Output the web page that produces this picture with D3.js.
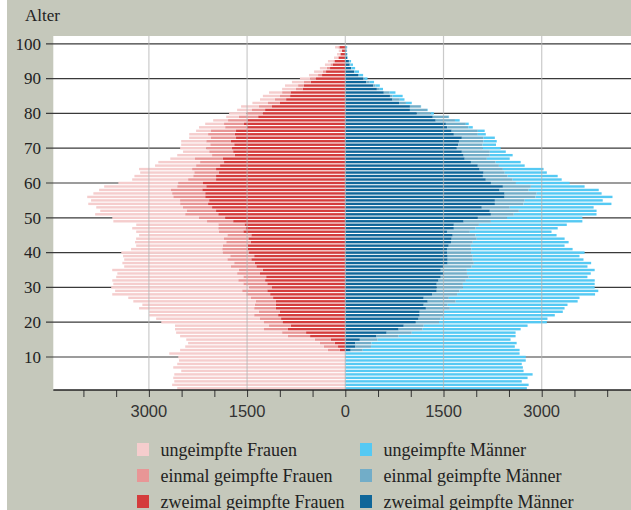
<!DOCTYPE html>
<html><head><meta charset="utf-8">
<script src="https://cdn.jsdelivr.net/npm/d3@7"></script>
<style>html,body{margin:0;padding:0;background:#fff;}svg{display:block;}</style>
</head><body>
<svg id="chart" width="631" height="510"></svg>
<script>
// Ages 1..99
const ages = d3.range(1, 100);
const yTicks = [10,20,30,40,50,60,70,80,90,100];
const xTicks = [-4000,-3500,-3000,-2500,-2000,-1500,-1000,-500,0,500,1000,1500,2000,2500,3000,3500,4000];
const xTickLabels = [-3000,-1500,0,1500,3000];
const seriesNames = ["ungeimpfte Frauen","einmal geimpfte Frauen","zweimal geimpfte Frauen","ungeimpfte Männer","einmal geimpfte Männer","zweimal geimpfte Männer"];

const womenNone = [2567,2645,2612,2628,2612,2506,2628,2567,2540,2551,2689,2257,2118,2013,1963,1647,1619,1359,1436,1569,
1586,1603,1675,1758,1719,1874,1874,2046,1941,2107,1985,1924,1941,1830,1935,1630,1708,1575,1636,1553,
1392,1325,1392,1342,1347,1264,1314,1253,1431,1325,1375,1325,1325,1403,1359,1314,1203,1098,1115,915,
854,898,826,810,627,638,377,532,399,399,444,383,333,288,227,399,288,227,194,266,
227,272,238,227,261,200,211,200,183,155,139,133,105,83,83,60,45,45,50];
const womenOnce = [0,0,0,0,0,0,0,0,0,0,0,183,216,227,244,338,366,366,333,288,
322,366,322,333,322,305,338,366,383,349,366,410,349,349,366,388,316,366,366,399,
388,377,372,372,366,372,416,399,399,399,505,444,444,427,444,488,505,477,444,377,
427,349,377,366,366,366,427,349,366,394,366,377,383,410,383,327,305,294,294,250,
200,200,183,172,155,128,105,89,105,89,61,50,50,39,22,12,15,5,17];
const womenTwice = [0,0,0,0,0,0,0,0,0,0,0,83,111,161,222,538,599,876,832,954,
981,1026,998,1059,1059,1059,1103,1148,1192,1120,1192,1225,1209,1303,1259,1359,1381,1436,1392,1470,
1492,1492,1447,1481,1436,1558,1525,1541,1713,1835,1941,1974,2035,2096,2080,2140,2140,2185,2124,2174,
1974,1974,1930,1974,1913,1852,1869,1686,1713,1730,1697,1747,1669,1686,1669,1508,1547,1497,1331,1259,
1225,1120,998,904,843,837,649,632,527,449,355,294,233,189,160,100,67,50,89];
const menNone = [2773,2800,2695,2784,2861,2723,2712,2695,2756,2756,2662,2396,2196,2218,2030,1786,1586,1497,1586,1647,
1630,1708,1819,1752,1830,1863,1996,2107,2118,2013,2013,1969,1813,1891,1952,1769,1792,1691,1630,1736,
1542,1431,1464,1342,1237,1248,1253,1342,1397,1153,1264,1187,1281,1342,1192,1176,993,1070,821,826,
749,765,643,621,394,383,349,349,244,277,205,205,177,122,105,67,44,72,5,50,
10,5,89,72,155,89,50,67,67,50,61,67,55,39,22,6,5,5,6];
const menOnce = [0,0,0,0,0,0,0,0,0,0,0,183,238,244,272,338,383,366,305,355,
338,355,366,366,366,427,383,383,349,399,399,416,427,355,399,427,399,383,383,366,
377,338,333,383,349,349,333,383,416,444,349,444,427,438,455,471,488,444,427,377,
410,377,322,355,322,377,338,399,427,394,372,372,327,366,399,322,305,294,244,211,
261,166,105,111,39,89,44,33,50,17,17,10,6,11,11,5,5,5,6];
const menTwice = [0,0,0,0,0,0,0,0,0,0,0,83,155,155,222,477,632,815,893,1076,
1120,1137,1137,1231,1198,1259,1198,1325,1397,1397,1397,1425,1458,1503,1458,1503,1564,1564,1564,1553,
1553,1580,1614,1625,1641,1553,1658,1658,1808,2024,2224,2207,2085,2285,2285,2434,2434,2357,2407,2224,
2146,2102,2113,2052,2024,1919,1824,1808,1780,1702,1725,1736,1780,1658,1625,1558,1536,1381,1336,1092,
987,987,821,721,682,588,482,427,322,272,194,133,89,67,55,28,22,17,17];

const colors = {
  womenNone:"#f5cdcd", womenOnce:"#e89696", womenTwice:"#d43c3c",
  menNone:"#55c9f3", menOnce:"#72adc8", menTwice:"#0f6699"
};

const rows = ages.map((a,i)=>({age:a,
  womenTwice:womenTwice[i], womenOnce:womenOnce[i], womenNone:womenNone[i],
  menTwice:menTwice[i], menOnce:menOnce[i], menNone:menNone[i]}));

const svg = d3.select("#chart");
const W = 631, H = 510;
const plotL = 53.3, plotT = 36, plotB = 390;

svg.append("rect").attr("x",0).attr("y",0).attr("width",W).attr("height",H).attr("fill","#ffffff");
svg.append("rect").attr("x",7).attr("y",0).attr("width",W-7).attr("height",H).attr("fill","#c5c8bb");
svg.append("rect").attr("x",plotL).attr("y",plotT).attr("width",W-plotL).attr("height",plotB-plotT).attr("fill","#ffffff");

const x = d3.scaleLinear().domain([-4460,4460]).range([plotL, 637.3]);
const y = d3.scaleLinear().domain([0,100]).range([391.8, 43.8]);
const barH = 2.4;

// horizontal age lines (behind bars)
svg.append("g").selectAll("line").data(yTicks).join("line")
  .attr("x1",46).attr("x2",W).attr("y1",d=>y(d)).attr("y2",d=>y(d))
  .attr("stroke","#3a3a3a").attr("stroke-width",1.2);

// stacks
const wStack = d3.stack().keys(["womenTwice","womenOnce","womenNone"])(rows);
const mStack = d3.stack().keys(["menTwice","menOnce","menNone"])(rows);

const bars = svg.append("g");
wStack.forEach(s=>{
  bars.append("g").attr("fill",colors[s.key]).selectAll("rect").data(s).join("rect")
    .attr("x",d=>x(-d[1])).attr("width",d=>Math.max(0,x(-d[0])-x(-d[1])))
    .attr("y",d=>y(d.data.age)-barH/2).attr("height",barH);
});
mStack.forEach(s=>{
  bars.append("g").attr("fill",colors[s.key]).selectAll("rect").data(s).join("rect")
    .attr("x",d=>x(d[0])).attr("width",d=>Math.max(0,x(d[1])-x(d[0])))
    .attr("y",d=>y(d.data.age)-barH/2).attr("height",barH);
});

// vertical gridlines (on top, light)
svg.append("g").selectAll("line").data(xTickLabels).join("line")
  .attr("x1",d=>x(d)).attr("x2",d=>x(d)).attr("y1",plotT).attr("y2",plotB)
  .attr("stroke","#b4b4b4").attr("stroke-opacity",0.7).attr("stroke-width",1.2);

// x axis
const xAxis = d3.axisBottom(x).tickValues(xTicks).tickSize(7).tickFormat("");
const gx = svg.append("g").attr("transform",`translate(0,${plotB})`).call(xAxis);
gx.select(".domain").remove();
gx.selectAll(".tick line").attr("stroke","#333").attr("stroke-width",1);
svg.append("line").attr("x1",plotL).attr("x2",W).attr("y1",plotB).attr("y2",plotB)
  .attr("stroke","#222").attr("stroke-width",1.3);
svg.append("g").selectAll("text").data(xTickLabels).join("text")
  .attr("x",d=>x(d)).attr("y",417).attr("text-anchor","middle")
  .attr("font-family","Liberation Sans, Arial, sans-serif").attr("font-size",16.5)
  .attr("fill","#333").text(d=>Math.abs(d));

// y labels
svg.append("g").selectAll("text").data(yTicks).join("text")
  .attr("x",41).attr("y",d=>y(d)+5.8).attr("text-anchor","end")
  .attr("font-family","Liberation Serif, Times New Roman, serif").attr("font-size",17)
  .attr("fill","#222").text(d=>d);

svg.append("text").attr("x",25).attr("y",21).attr("font-family","Liberation Serif, serif")
  .attr("font-size",17).attr("fill","#222").text("Alter");

// legend
const legendKeys = ["womenNone","womenOnce","womenTwice","menNone","menOnce","menTwice"];
const legend = svg.append("g");
legendKeys.forEach((k,i)=>{
  const col = i<3?0:1, row = i%3;
  const lx = col===0?137:360, ly = 443 + row*26;
  legend.append("rect").attr("x",lx).attr("y",ly).attr("width",12).attr("height",13).attr("fill",colors[k]);
  legend.append("text").attr("x",lx+23.5).attr("y",ly+12.5)
    .attr("font-family","Liberation Serif, serif").attr("font-size",18).attr("fill","#222")
    .text(seriesNames[i]);
});
</script>
</body></html>
